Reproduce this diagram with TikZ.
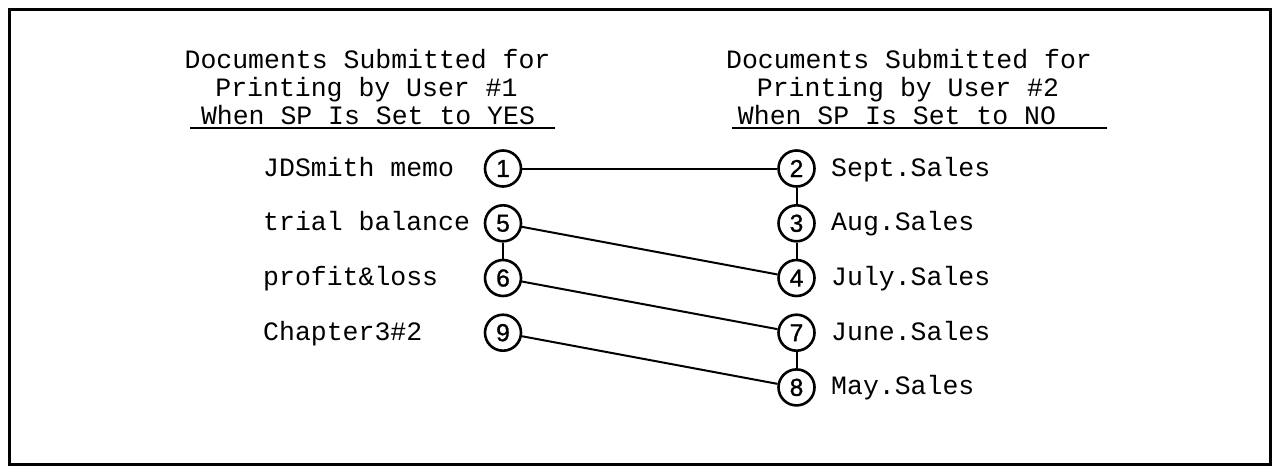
\documentclass[tikz,border=0pt]{standalone}
\usepackage{fontspec}
\newfontfamily\monofam{Liberation Mono}
\newfontfamily\digfam[FakeBold=1.2]{Liberation Sans}
\begin{document}
\begin{tikzpicture}[x=1pt,y=-1pt,
  lbl/.style={font=\monofam\fontsize{26.5}{28}\selectfont, inner sep=0pt, anchor=base west},
  hdr/.style={font=\monofam\fontsize{26.5}{28}\selectfont, inner sep=0pt, anchor=base},
  num/.style={circle, draw, line width=2.6pt, minimum size=36pt, inner sep=0pt, font=\digfam\fontsize{24.5}{25}\selectfont},
  link/.style={line width=2pt},
  rule/.style={line width=2pt},
  frame/.style={line width=3pt}]
\useasboundingbox (0,0) rectangle (1273,466);
\draw[frame] (9,9) rectangle (1270,464);

% headers
\node[hdr] (hl1) at (367.5,68) {Documents Submitted for};
\node[hdr] (hl2) at (366.5,96) {Printing by User \#1};
\node[hdr] (hl3) at (368,124) {When SP Is Set to YES};
\node[hdr] (hr1) at (909,68) {Documents Submitted for};
\node[hdr] (hr2) at (908,96) {Printing by User \#2};
\node[hdr] (hr3) at (897,124) {When SP Is Set to NO};
\coordinate (ulA) at (190,128);
\coordinate (ulB) at (555,128);
\coordinate (urA) at (732,128);
\coordinate (urB) at (1107,128);
\draw[rule] (ulA) -- (ulB);
\draw[rule] (urA) -- (urB);

% circles
\node[num] (c1) at (503,168.5) {1};
\node[num] (c5) at (503,223.3) {5};
\node[num] (c6) at (503,278) {6};
\node[num] (c9) at (503,332.7) {9};
\node[num] (c2) at (796.5,168.5) {2};
\node[num] (c3) at (796.5,223.3) {3};
\node[num] (c4) at (796.5,278) {4};
\node[num] (c7) at (796.5,332.7) {7};
\node[num] (c8) at (796.5,387.4) {8};

% labels
\node[lbl] (l1) at (263,176) {JDSmith memo};
\node[lbl] (l5) at (263,230.8) {trial balance};
\node[lbl] (l6) at (263,285.5) {profit\&loss};
\node[lbl] (l9) at (263,340.2) {Chapter3\#2};
\node[lbl] (r2) at (831,176) {Sept.Sales};
\node[lbl] (r3) at (831,230.8) {Aug.Sales};
\node[lbl] (r4) at (831,285.5) {July.Sales};
\node[lbl] (r7) at (831,340.2) {June.Sales};
\node[lbl] (r8) at (831,394.9) {May.Sales};

% connectors
\draw[link] (c1) -- (c2);
\draw[link] (c5) -- (c4);
\draw[link] (c6) -- (c7);
\draw[link] (c9) -- (c8);
\draw[link] (c5) -- (c6);
\draw[link] (c2) -- (c3);
\draw[link] (c3) -- (c4);
\draw[link] (c7) -- (c8);
\end{tikzpicture}
\end{document}
